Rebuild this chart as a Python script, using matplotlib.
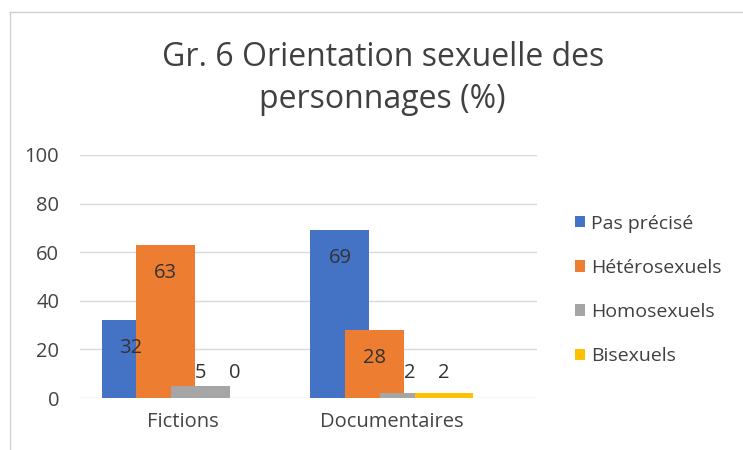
import numpy as np
import matplotlib.pyplot as plt
from matplotlib.lines import Line2D

# data
categories = ['Fictions', 'Documentaires']
series = ['Pas précisé', 'Hétérosexuels', 'Homosexuels', 'Bisexuels']
values = {
    'Pas précisé': [32, 69],
    'Hétérosexuels': [63, 28],
    'Homosexuels': [5, 2],
    'Bisexuels': [0, 2],
}
colors = ['#4472C4', '#ED7D31', '#A5A5A5', '#FFC000']

plt.rcParams['font.family'] = ['Open Sans', 'DejaVu Sans']

fig = plt.figure(figsize=(7.43, 4.5), dpi=100)
ax = fig.add_axes([80/743, 1-398/450, 457/743, 243/450])

x = np.arange(len(categories))
step = 0.166
width = 0.282
for i, (name, c) in enumerate(zip(series, colors)):
    off = (i - 1.5) * step
    vals = values[name]
    ax.bar(x + off, vals, width=width, color=c, label=name, zorder=2 + i)
    for xi, v in zip(x + off, vals):
        ypos = v - 11.5 if v > 15 else 10.3
        ax.text(xi, ypos, str(v), ha='center', va='center', fontsize=14.5,
                color='#333333', zorder=10)

ax.set_xlim(-0.493, 1.694)
ax.set_ylim(0, 100)
ax.set_yticks(range(0, 101, 20))
ax.set_xticks(x)
ax.set_xticklabels(categories)
ax.yaxis.grid(True, color='#D9D9D9', linewidth=1, zorder=0)
ax.set_axisbelow(True)
for s in ax.spines.values():
    s.set_visible(False)
ax.tick_params(axis='both', length=0, labelsize=14.5, colors='#444444')
ax.tick_params(axis='y', pad=15)
ax.tick_params(axis='x', pad=10)

fig.text(383/743, 1-58/450, 'Gr. 6 Orientation sexuelle des', ha='center',
         va='center', fontsize=23, color='#404040')
fig.text(382/743, 1-100/450, 'personnages (%)', ha='center',
         va='center', fontsize=23, color='#404040')

leg = ax.legend(loc='upper left', bbox_to_anchor=(557/743, 1-197/450),
                bbox_transform=fig.transFigure, frameon=False, fontsize=14,
                handlelength=0.55, handleheight=0.55, handletextpad=0.3,
                labelspacing=1.35, labelcolor='#404040')

# chart border
fig.add_artist(Line2D([10/743, 1], [1-12/450, 1-12/450], color='#D0D0D0', lw=1))
fig.add_artist(Line2D([10/743, 10/743], [0, 1-12/450], color='#D0D0D0', lw=1))

fig.savefig('out.png', dpi=100)
